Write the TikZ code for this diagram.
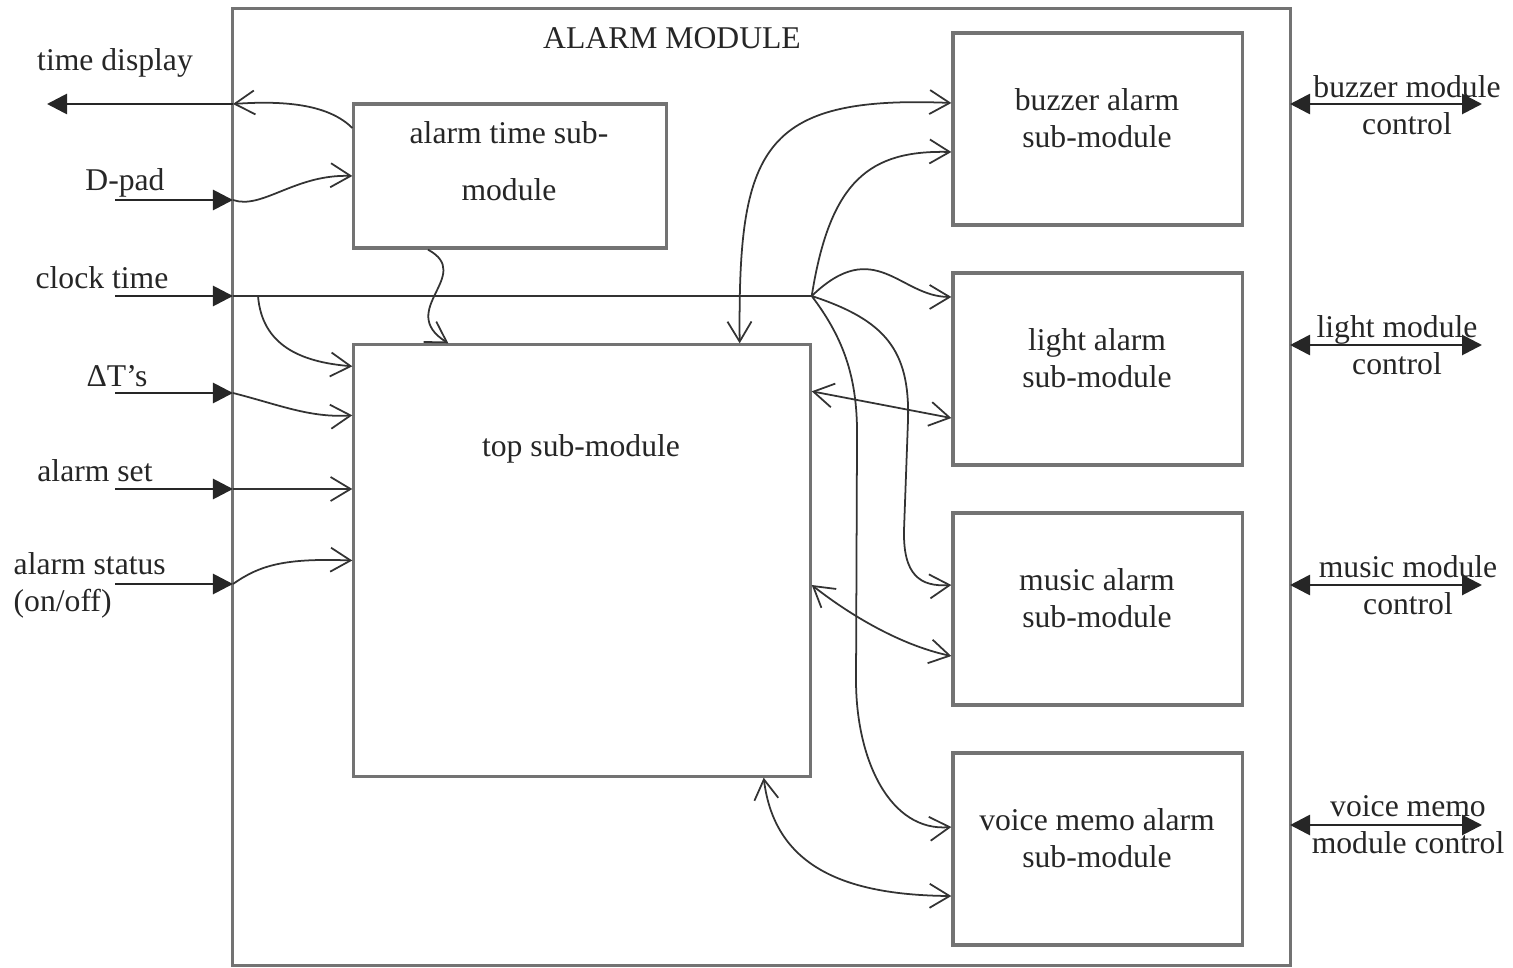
\documentclass[tikz,border=0pt]{standalone}
\usepackage{fontspec}
\setmainfont{Liberation Serif}
\usetikzlibrary{arrows.meta,positioning}
\tikzset{
	box/.style={draw=black!55, line width=0.9pt, inner sep=0pt},
	lbl/.style={text=black!85, font=\fontsize{9}{10.5}\selectfont, inner sep=0pt, align=center},
	sig/.style={draw=black!80, line width=0.5pt},
	ext/.style={draw=black!85, line width=0.8pt, -{Triangle[length=2mm,width=2mm]}},
	extboth/.style={draw=black!85, line width=0.8pt, {Triangle[length=2mm,width=2mm]}-{Triangle[length=2mm,width=2mm]}},
	into/.style={sig, -{Straight Barb[length=2mm,width=2.4mm]}},
	both/.style={sig, {Straight Barb[length=2mm,width=2.4mm]}-{Straight Barb[length=2mm,width=2.4mm]}}
}
\begin{document}
\begin{tikzpicture}[x=0.01cm,y=-0.01cm]
	\useasboundingbox (0,0) rectangle (1513,967);
	% Modul
	\node[box, minimum width=10.57cm, minimum height=9.56cm] (alarm) at (761.5,487) {};
	\node[lbl] (alarmtitle) at (672,38) {ALARM MODULE};
	% alarm time
	\node[box, minimum width=3.12cm, minimum height=1.44cm] (atime) at (510,176) {};
	\node[lbl] (atimetxt) at (509,161) {alarm time sub-\\[5.7pt]module};
	% top
	\node[box, minimum width=4.56cm, minimum height=4.31cm] (top) at (582,560.5) {};
	\node[lbl] (toptxt) at (581,449) {top sub-module};
	% Weckarten
	\node[box, minimum width=2.89cm, minimum height=1.92cm] (buzzer) at (1097.5,129) {};
	\node[lbl] (buzzertxt) at (1097,118) {buzzer alarm\\sub-module};
	\node[box, minimum width=2.89cm, minimum height=1.92cm] (light) at (1097.5,369) {};
	\node[lbl] (lighttxt) at (1097,358) {light alarm\\sub-module};
	\node[box, minimum width=2.89cm, minimum height=1.92cm] (music) at (1097.5,609) {};
	\node[lbl] (musictxt) at (1097,598) {music alarm\\sub-module};
	\node[box, minimum width=2.89cm, minimum height=1.92cm] (voice) at (1097.5,849) {};
	\node[lbl] (voicetxt) at (1097,838) {voice memo alarm\\sub-module};

	% Eingaenge links
	\coordinate (tdin) at (233,104);
	\coordinate (tdout) at (47,104);
	\node[lbl] (tdlbl) at (115,63) {time display};
	\coordinate (dpsrc) at (115,200);
	\coordinate (dpin) at (233,200);
	\node[lbl] (dplbl) at (125,183) {D-pad};
	\coordinate (clksrc) at (115,296);
	\coordinate (clkin) at (233,296);
	\coordinate (clkbranch) at (258,296);
	\coordinate (clkjoin) at (clkin -| top.east);
	\node[lbl] (clklbl) at (102,278) {clock time};
	\coordinate (dtsrc) at (115,393);
	\coordinate (dtin) at (233,393);
	\node[lbl] (dtlbl) at (117,376) {ΔT’s};
	\coordinate (assrc) at (115,489);
	\coordinate (asin) at (233,489);
	\node[lbl] (aslbl) at (95,471) {alarm set};
	\coordinate (stsrc) at (115,584);
	\coordinate (stin) at (233,584);
	\node[lbl, align=left, anchor=west] (stlbl) at (13,585) {alarm status\\(on/off)};

	\draw[ext] (tdin) -- (tdout);
	\draw[ext] (dpsrc) -- (dpin);
	\draw[ext] (clksrc) -- (clkin);
	\draw[ext] (dtsrc) -- (dtin);
	\draw[ext] (assrc) -- (asin);
	\draw[ext] (stsrc) -- (stin);

	% Ausgaenge rechts
	\coordinate (bzin) at (1290,104);
	\coordinate (bzout) at (1482,104);
	\node[lbl] (bzlbl) at (1407,105) {buzzer module\\control};
	\coordinate (ltin) at (1290,345);
	\coordinate (ltout) at (1482,345);
	\node[lbl] (ltlbl) at (1397,345) {light module\\control};
	\coordinate (msin) at (1290,585);
	\coordinate (msout) at (1482,585);
	\node[lbl] (mslbl) at (1408,585) {music module\\control};
	\coordinate (vcin) at (1290,825);
	\coordinate (vcout) at (1482,825);
	\node[lbl] (vclbl) at (1408,825) {voice memo\\module control};

	\draw[extboth] (bzin) -- (bzout);
	\draw[extboth] (ltin) -- (ltout);
	\draw[extboth] (msin) -- (msout);
	\draw[extboth] (vcin) -- (vcout);

	% alarm time Verbindungen
	\draw[into] ([yshift=4.8mm]atime.west) .. controls (330,106) and (290,100) .. (tdin);
	\draw[into] (dpin) .. controls (262,210) and (295,174) .. (atime.west);
	\draw[into] ([xshift=-8.2mm]atime.south) .. controls (475,275) and (395,310) .. ([xshift=9.6mm]top.north west);

	% Eingaenge top
	\draw[sig] (clkin) -- (clkjoin);
	\draw[into] (clkbranch) .. controls (262,345) and (300,362) .. ([yshift=-2.3mm]top.north west);
	\draw[into] (dtin) .. controls (280,405) and (310,418) .. ([yshift=-7.2mm]top.north west);
	\draw[into] (asin) -- (asin -| top.west);
	\draw[into] (stin) .. controls (260,565) and (285,558) .. (top.west);

	% clock time zu den Weckarten
	\draw[into] (clkjoin) .. controls (830,180) and (870,150) .. ([yshift=-2.3mm]buzzer.west);
	\draw[into] (clkjoin) .. controls (875,235) and (900,297) .. ([yshift=7.2mm]light.west);
	\draw[into] (clkjoin) .. controls (885,320) and (910,350) .. (908,420) -- (904,530)
		.. controls (903,575) and (920,587) .. ([yshift=2.4mm]music.west);
	\draw[into] (clkjoin) .. controls (845,340) and (858,380) .. (857,440) -- (856,680)
		.. controls (856,760) and (890,832) .. ([yshift=2.2mm]voice.west);

	% top <-> Weckarten
	\draw[both] ([yshift=2.6mm]buzzer.west) .. controls (760,95) and (738,150) .. ([xshift=-7.2mm]top.north east);
	\draw[both] ([yshift=-4.8mm]top.north east) -- ([yshift=-4.9mm]light.west);
	\draw[both] ([yshift=-2.45mm]top.east) .. controls (850,615) and (900,645) .. ([yshift=-4.7mm]music.west);
	\draw[both] ([xshift=-4.8mm]top.south east) .. controls (775,870) and (850,895) .. ([yshift=-4.7mm]voice.west);
\end{tikzpicture}
\end{document}
